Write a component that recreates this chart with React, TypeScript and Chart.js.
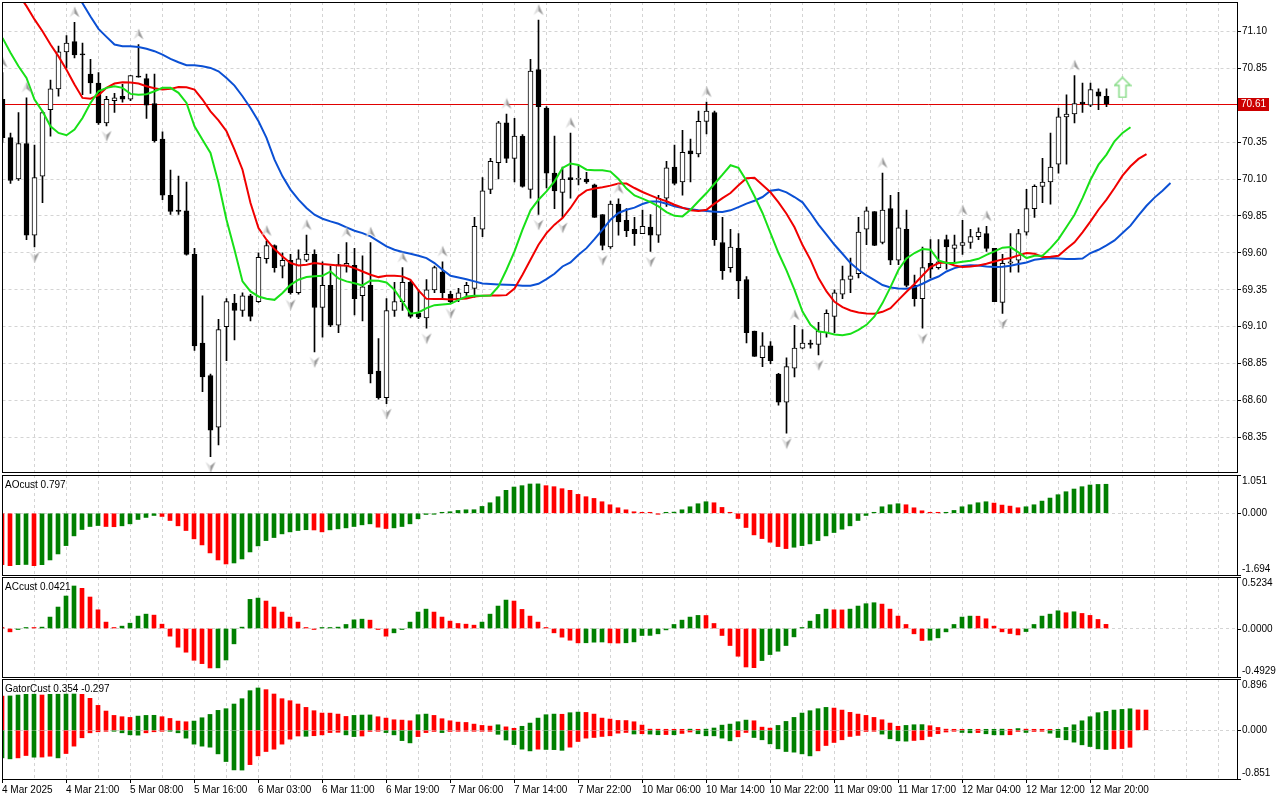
import React, { useEffect, useRef } from "react";
import { Chart, registerables } from "chart.js";

Chart.register(...registerables);

const FONT = "'Liberation Sans', Arial, sans-serif";
const GRID = "#d4d4d4";
const UP = "#008000";
const DOWN = "#ff0000";

Chart.defaults.font.family = FONT;
Chart.defaults.color = "#000";

// ---- H1 price bars, bar 0 = 4 Mar 2025 ----
const opens = [
  70.64, 70.38, 70.10, 70.34, 69.72, 70.12, 70.57, 70.71, 70.96, 71.03,
  70.945, 70.81, 70.75, 70.48, 70.63, 70.66, 70.64, 70.795, 70.78, 70.61,
  70.37, 69.99, 69.89, 69.885, 69.59, 68.99, 68.77, 68.42, 69.10, 69.26,
  69.21, 69.31, 69.27, 69.56, 69.65, 69.51, 69.55, 69.33, 69.55, 69.59,
  69.23, 69.38, 69.11, 69.51, 69.515, 69.31, 69.38, 68.80, 68.62, 69.21,
  69.27, 69.40, 69.19, 69.16, 69.35, 69.47, 69.32, 69.29, 69.33, 69.36,
  69.76, 70.03, 70.21, 70.48, 70.24, 70.39, 70.03, 70.84, 70.58, 70.14,
  70.01, 70.11, 70.098, 70.10, 70.06, 69.86, 69.64, 69.93, 69.82, 69.76,
  69.73, 69.775, 69.72, 69.97, 70.18, 70.08, 70.29, 70.27, 70.49, 70.55,
  69.67, 69.50, 69.63, 69.42, 69.07, 68.89, 68.97, 68.78, 68.59, 68.82,
  68.955, 68.99, 68.98, 69.06, 69.17, 69.32, 69.42, 69.46, 69.76, 69.88,
  69.67, 69.90, 69.55, 69.76, 69.38, 69.29, 69.53, 69.50, 69.69, 69.63,
  69.65, 69.67, 69.71, 69.73, 69.63, 69.265, 69.53, 69.55, 69.74, 69.90,
  70.05, 70.08, 70.20, 70.52, 70.54, 70.62, 70.60, 70.69, 70.66,
];
const highs = [
  70.82, 70.41, 70.55, 70.65, 70.33, 70.56, 70.77, 71.00, 71.07, 71.16,
  71.02, 70.91, 70.82, 70.66, 70.68, 70.74, 70.80, 71.01, 70.81, 70.81,
  70.42, 70.16, 70.12, 70.08, 69.63, 69.31, 68.78, 69.15, 69.29, 69.32,
  69.33, 69.32, 69.60, 69.68, 69.655, 69.60, 69.59, 69.62, 69.72, 69.62,
  69.54, 69.51, 69.59, 69.67, 69.63, 69.58, 69.67, 69.02, 69.29, 69.40,
  69.50, 69.41, 69.35, 69.42, 69.51, 69.54, 69.34, 69.36, 69.40, 69.84,
  70.11, 70.24, 70.49, 70.54, 70.51, 70.40, 70.91, 71.175, 70.59, 70.39,
  70.18, 70.41, 70.19, 70.145, 70.065, 69.86, 69.95, 69.965, 69.90, 69.84,
  69.89, 69.86, 69.99, 70.22, 70.33, 70.43, 70.37, 70.56, 70.62, 70.56,
  69.84, 69.76, 69.73, 69.44, 69.07, 69.06, 69.00, 68.785, 68.89, 69.11,
  69.08, 69.01, 69.13, 69.215, 69.35, 69.51, 69.565, 69.84, 69.91, 69.88,
  70.14, 69.99, 70.01, 69.89, 69.45, 69.64, 69.69, 69.69, 69.72, 69.72,
  69.82, 69.76, 69.77, 69.78, 69.63, 69.59, 69.73, 69.76, 70.03, 70.06,
  70.24, 70.41, 70.58, 70.67, 70.80, 70.75, 70.75, 70.71, 70.71,
];
const lows = [
  70.35, 70.07, 70.09, 69.69, 69.64, 69.94, 70.39, 70.66, 70.85, 70.92,
  70.67, 70.68, 70.47, 70.46, 70.55, 70.62, 70.63, 70.79, 70.51, 70.35,
  69.96, 69.86, 69.86, 69.585, 68.94, 68.66, 68.22, 68.30, 68.87, 69.01,
  69.17, 69.14, 69.265, 69.53, 69.47, 69.43, 69.32, 69.32, 69.54, 68.93,
  69.03, 69.10, 69.06, 69.47, 69.18, 69.14, 68.72, 68.61, 68.58, 69.17,
  69.21, 69.16, 69.155, 69.09, 69.33, 69.29, 69.26, 69.27, 69.30, 69.30,
  69.71, 70.00, 70.10, 70.21, 70.08, 70.045, 69.97, 69.86, 70.04, 69.90,
  69.84, 69.97, 70.06, 70.07, 69.84, 69.62, 69.63, 69.72, 69.71, 69.65,
  69.73, 69.61, 69.67, 69.915, 70.06, 69.99, 70.08, 70.25, 70.405, 69.65,
  69.42, 69.47, 69.29, 68.99, 68.90, 68.83, 68.85, 68.57, 68.38, 68.76,
  68.95, 68.955, 68.91, 69.03, 69.06, 69.29, 69.33, 69.43, 69.655, 69.648,
  69.66, 69.52, 69.52, 69.37, 69.24, 69.09, 69.43, 69.49, 69.49, 69.53,
  69.59, 69.63, 69.69, 69.61, 69.27, 69.19, 69.47, 69.47, 69.72, 69.84,
  69.94, 69.93, 70.14, 70.20, 70.48, 70.55, 70.59, 70.57, 70.59,
];
const closes = [
  70.38, 70.09, 70.34, 69.72, 70.11, 70.55, 70.71, 70.96, 71.02, 70.94,
  70.94, 70.75, 70.48, 70.64, 70.65, 70.64, 70.80, 70.79, 70.60, 70.36,
  69.99, 69.88, 69.88, 69.59, 68.97, 68.76, 68.40, 69.08, 69.27, 69.21,
  69.31, 69.17, 69.57, 69.65, 69.50, 69.55, 69.33, 69.56, 69.59, 69.23,
  69.38, 69.11, 69.52, 69.53, 69.29, 69.37, 68.78, 68.62, 69.21, 69.27,
  69.40, 69.17, 69.165, 69.35, 69.50, 69.33, 69.27, 69.33, 69.38, 69.78,
  70.02, 70.22, 70.48, 70.24, 70.39, 70.05, 70.83, 70.59, 70.14, 70.02,
  70.10, 70.095, 70.10, 70.08, 69.84, 69.65, 69.93, 69.81, 69.75, 69.73,
  69.78, 69.72, 69.97, 70.175, 70.07, 70.28, 70.27, 70.49, 70.56, 69.69,
  69.48, 69.64, 69.41, 69.06, 68.90, 68.97, 68.87, 68.59, 68.83, 68.955,
  68.99, 68.98, 69.07, 69.19, 69.33, 69.42, 69.445, 69.74, 69.885, 69.65,
  69.89, 69.55, 69.77, 69.38, 69.29, 69.50, 69.49, 69.54, 69.64, 69.655,
  69.67, 69.71, 69.74, 69.63, 69.27, 69.53, 69.54, 69.73, 69.90, 70.05,
  70.08, 70.18, 70.52, 70.54, 70.61, 70.61, 70.705, 70.66, 70.61,
];

// ---- Alligator lines (each begins at its own bar index, shifted forward) ----
const jawStart = 8;
const jaw = [
  71.45, 71.37, 71.29, 71.20, 71.116, 71.062, 71.010, 70.999, 70.999, 70.994,
  70.981, 70.965, 70.942, 70.913, 70.890, 70.870, 70.870, 70.863, 70.852, 70.829,
  70.784, 70.732, 70.660, 70.581, 70.491, 70.378, 70.231, 70.118, 70.028, 69.960,
  69.904, 69.858, 69.831, 69.813, 69.797, 69.773, 69.750, 69.734, 69.712, 69.678,
  69.644, 69.621, 69.606, 69.594, 69.581, 69.565, 69.531, 69.486, 69.445, 69.434,
  69.422, 69.407, 69.393, 69.389, 69.386, 69.384, 69.382, 69.377, 69.377, 69.391,
  69.422, 69.459, 69.508, 69.535, 69.587, 69.632, 69.693, 69.757, 69.824, 69.870,
  69.892, 69.906, 69.931, 69.947, 69.947, 69.933, 69.915, 69.904, 69.895, 69.888,
  69.883, 69.879, 69.876, 69.888, 69.910, 69.933, 69.953, 69.978, 70.021, 70.028,
  70.010, 69.978, 69.942, 69.870, 69.791, 69.723, 69.655, 69.594, 69.531, 69.486,
  69.447, 69.416, 69.382, 69.366, 69.359, 69.357, 69.368, 69.391, 69.418, 69.440,
  69.474, 69.497, 69.511, 69.517, 69.515, 69.508, 69.504, 69.506, 69.513, 69.524,
  69.535, 69.553, 69.560, 69.565, 69.562, 69.558, 69.558, 69.562, 69.599, 69.621,
  69.651, 69.684, 69.734, 69.784, 69.854, 69.919, 69.974, 70.021, 70.073,
];
const teethStart = 2;
const teeth = [
  71.35, 71.27, 71.18, 71.10, 71.01, 70.93, 70.84, 70.74, 70.649, 70.644,
  70.667, 70.717, 70.746, 70.755, 70.753, 70.746, 70.728, 70.714, 70.705, 70.710,
  70.723, 70.721, 70.705, 70.638, 70.558, 70.497, 70.423, 70.299, 70.163, 69.937,
  69.768, 69.689, 69.626, 69.576, 69.531, 69.515, 69.520, 69.531, 69.524, 69.520,
  69.515, 69.515, 69.497, 69.474, 69.452, 69.436, 69.445, 69.445, 69.441, 69.418,
  69.346, 69.289, 69.287, 69.287, 69.285, 69.287, 69.291, 69.305, 69.310, 69.312,
  69.312, 69.314, 69.359, 69.452, 69.553, 69.655, 69.734, 69.791, 69.836, 69.904,
  69.983, 70.023, 70.035, 70.044, 70.055, 70.069, 70.069, 70.039, 70.012, 69.989,
  69.967, 69.949, 69.926, 69.906, 69.888, 69.883, 69.892, 69.933, 69.971, 70.005,
  70.057, 70.105, 70.109, 70.059, 70.010, 69.942, 69.865, 69.773, 69.653, 69.553,
  69.429, 69.339, 69.269, 69.233, 69.210, 69.197, 69.190, 69.188, 69.201, 69.226,
  69.282, 69.337, 69.389, 69.447, 69.504, 69.531, 69.535, 69.515, 69.504, 69.508,
  69.515, 69.526, 69.542, 69.556, 69.565, 69.583, 69.599, 69.594, 69.572, 69.574,
  69.580, 69.628, 69.671, 69.739, 69.813, 69.892, 69.960, 70.039, 70.123, 70.186,
  70.236, 70.269,
];
const lipsStart = 0;
const lips = [
  71.055, 70.954, 70.863, 70.784, 70.638, 70.558, 70.457, 70.412, 70.396, 70.434,
  70.513, 70.615, 70.694, 70.717, 70.728, 70.717, 70.676, 70.671, 70.674, 70.694,
  70.717, 70.717, 70.683, 70.615, 70.457, 70.366, 70.276, 70.073, 69.824, 69.621,
  69.407, 69.339, 69.305, 69.289, 69.282, 69.328, 69.384, 69.418, 69.436, 69.441,
  69.445, 69.474, 69.427, 69.407, 69.395, 69.380, 69.413, 69.411, 69.400, 69.350,
  69.271, 69.188, 69.197, 69.226, 69.246, 69.251, 69.255, 69.282, 69.305, 69.310,
  69.310, 69.312, 69.373, 69.486, 69.610, 69.757, 69.888, 69.960, 70.016, 70.084,
  70.175, 70.204, 70.195, 70.163, 70.159, 70.159, 70.150, 70.100, 70.035, 69.989,
  69.967, 69.944, 69.915, 69.876, 69.851, 69.847, 69.892, 69.949, 70.005, 70.068,
  70.129, 70.193, 70.175, 70.089, 69.983, 69.870, 69.734, 69.599, 69.481, 69.350,
  69.203, 69.113, 69.068, 69.061, 69.048, 69.043, 69.052, 69.079, 69.113, 69.170,
  69.260, 69.368, 69.486, 69.562, 69.599, 69.626, 69.621, 69.549, 69.531, 69.531,
  69.540, 69.547, 69.560, 69.587, 69.610, 69.635, 69.639, 69.603, 69.565, 69.580,
  69.580, 69.632, 69.693, 69.775, 69.858, 69.971, 70.095, 70.197, 70.265, 70.355,
  70.412, 70.450,
];

// fractal bars and the buy signal
const fractalUp = [0, 3, 9, 17, 33, 38, 43, 46, 50, 55, 63, 67, 71, 77, 88, 99, 110, 120, 123, 134];
const fractalDown = [4, 13, 26, 36, 39, 48, 53, 56, 67, 70, 75, 81, 98, 102, 115, 125];
const signalBars = [140];
const signalPrices = [70.72];

// ---- oscillators ----
const aoValues = [
  -1.410, -1.438, -1.410, -1.405, -1.438, -1.410, -1.281, -1.116, -0.887, -0.620,
  -0.445, -0.363, -0.336, -0.363, -0.369, -0.344, -0.289, -0.170, -0.114, -0.060,
  -0.087, -0.198, -0.344, -0.473, -0.702, -0.868, -1.088, -1.281, -1.391, -1.364,
  -1.254, -1.061, -0.895, -0.749, -0.666, -0.565, -0.510, -0.473, -0.451, -0.458,
  -0.510, -0.455, -0.427, -0.400, -0.363, -0.317, -0.289, -0.381, -0.418, -0.400,
  -0.363, -0.289, -0.151, -0.032, -0.008, 0.014, 0.042, 0.078, 0.096, 0.098,
  0.188, 0.289, 0.455, 0.630, 0.721, 0.758, 0.804, 0.807, 0.758, 0.730,
  0.675, 0.630, 0.519, 0.455, 0.408, 0.317, 0.234, 0.151, 0.096, 0.042,
  0.023, 0.010, -0.023, 0.014, 0.032, 0.096, 0.179, 0.262, 0.317, 0.289,
  0.161, 0.005, -0.143, -0.390, -0.593, -0.694, -0.794, -0.914, -0.969, -0.932,
  -0.887, -0.840, -0.749, -0.620, -0.528, -0.437, -0.344, -0.198, -0.060, 0.014,
  0.179, 0.234, 0.262, 0.234, 0.151, 0.069, 0.014, 0.005, 0.012, 0.078,
  0.179, 0.234, 0.289, 0.317, 0.280, 0.225, 0.197, 0.152, 0.179, 0.234,
  0.335, 0.418, 0.510, 0.592, 0.666, 0.730, 0.776, 0.792, 0.797,
];
const acValues = [
  0.003, -0.034, -0.005, 0.003, 0.001, 0.014, 0.116, 0.218, 0.330, 0.432,
  0.408, 0.320, 0.190, 0.065, 0.007, 0.024, 0.054, 0.126, 0.146, 0.136,
  0.044, -0.078, -0.190, -0.241, -0.323, -0.357, -0.401, -0.400, -0.320, -0.156,
  0.014, 0.296, 0.309, 0.279, 0.218, 0.167, 0.116, 0.065, 0.003, -0.010,
  0.003, 0.007, 0.014, 0.041, 0.088, 0.095, 0.085, -0.003, -0.078, -0.044,
  -0.003, 0.065, 0.167, 0.197, 0.167, 0.116, 0.075, 0.051, 0.044, 0.034,
  0.065, 0.146, 0.228, 0.289, 0.279, 0.194, 0.126, 0.065, 0.005, -0.044,
  -0.088, -0.119, -0.146, -0.145, -0.139, -0.137, -0.146, -0.148, -0.145, -0.136,
  -0.071, -0.070, -0.054, -0.014, 0.041, 0.085, 0.116, 0.133, 0.132, 0.051,
  -0.071, -0.173, -0.282, -0.391, -0.398, -0.326, -0.265, -0.231, -0.173, -0.085,
  0.007, 0.075, 0.143, 0.197, 0.190, 0.189, 0.197, 0.228, 0.252, 0.262,
  0.248, 0.197, 0.126, 0.041, -0.054, -0.122, -0.119, -0.095, -0.034, 0.041,
  0.116, 0.126, 0.125, 0.099, 0.024, -0.034, -0.051, -0.065, -0.031, 0.041,
  0.126, 0.146, 0.180, 0.160, 0.170, 0.153, 0.133, 0.092, 0.0421,
];
const gatorUpper = [
  0.597, 0.600, 0.616, 0.628, 0.630, 0.616, 0.628, 0.630, 0.632, 0.634,
  0.628, 0.558, 0.435, 0.336, 0.260, 0.237, 0.225, 0.248, 0.260, 0.262,
  0.237, 0.207, 0.161, 0.149, 0.161, 0.219, 0.277, 0.348, 0.377, 0.459,
  0.552, 0.692, 0.739, 0.710, 0.634, 0.552, 0.517, 0.459, 0.400, 0.342,
  0.301, 0.300, 0.283, 0.242, 0.260, 0.266, 0.268, 0.237, 0.213, 0.184,
  0.178, 0.166, 0.272, 0.283, 0.260, 0.202, 0.166, 0.143, 0.137, 0.108,
  0.085, 0.073, 0.096, 0.060, 0.035, 0.070, 0.126, 0.213, 0.272, 0.283,
  0.280, 0.307, 0.318, 0.312, 0.283, 0.213, 0.196, 0.172, 0.170, 0.149,
  0.091, 0.020, 0.019, 0.018, 0.010, 0.009, 0.020, 0.010, 0.020, 0.040,
  0.090, 0.108, 0.149, 0.178, 0.166, 0.055, 0.038, 0.085, 0.155, 0.225,
  0.301, 0.342, 0.377, 0.400, 0.388, 0.353, 0.313, 0.283, 0.260, 0.225,
  0.184, 0.126, 0.070, 0.085, 0.097, 0.099, 0.080, 0.050, 0.020, 0.010,
  0.005, 0.006, 0.005, 0.008, 0.012, 0.020, 0.015, 0.030, 0.020, 0.010,
  0.005, 0.004, 0.010, 0.050, 0.096, 0.166, 0.237, 0.307, 0.330, 0.353,
  0.365, 0.376, 0.356, 0.354,
];
const gatorLower = [
  -0.482, -0.499, -0.482, -0.441, -0.470, -0.468, -0.453, -0.482, -0.406, -0.277,
  -0.131, -0.044, -0.026, -0.003, -0.015, -0.044, -0.079, -0.085, -0.044, -0.026,
  -0.003, -0.009, -0.044, -0.137, -0.242, -0.277, -0.295, -0.412, -0.546, -0.692,
  -0.695, -0.600, -0.447, -0.371, -0.330, -0.242, -0.155, -0.100, -0.105, -0.095,
  -0.080, -0.040, -0.035, -0.080, -0.110, -0.100, -0.020, -0.015, -0.040, -0.080,
  -0.180, -0.220, -0.110, -0.040, -0.020, -0.040, -0.020, -0.015, -0.010, -0.005,
  -0.003, -0.002, -0.070, -0.170, -0.250, -0.330, -0.360, -0.330, -0.335, -0.338,
  -0.350, -0.295, -0.196, -0.137, -0.126, -0.108, -0.096, -0.050, -0.038, -0.065,
  -0.060, -0.067, -0.078, -0.075, -0.078, -0.055, -0.030, -0.061, -0.096, -0.097,
  -0.137, -0.184, -0.114, -0.038, -0.126, -0.166, -0.237, -0.324, -0.371, -0.382,
  -0.412, -0.447, -0.359, -0.266, -0.213, -0.166, -0.108, -0.090, -0.020, -0.015,
  -0.067, -0.149, -0.184, -0.190, -0.178, -0.166, -0.108, -0.060, -0.030, -0.010,
  -0.038, -0.044, -0.040, -0.061, -0.079, -0.080, -0.078, -0.020, -0.038, -0.020,
  -0.005, -0.050, -0.126, -0.166, -0.207, -0.254, -0.284, -0.324, -0.336, -0.324,
  -0.320, -0.297,
];

// ---- axes ----
const priceTicks = [71.10, 70.85, 70.35, 70.10, 69.85, 69.60, 69.35, 69.10, 68.85, 68.60, 68.35];
const aoRange = [-1.694, 1.051];
const acRange = [-0.4929, 0.5234];
const gatorRange = [-0.851, 0.896];
const timeLabelBars = [0, 8, 16, 24, 32, 40, 48, 56, 64, 72, 80, 88, 96, 104, 112, 120, 128, 136];
const timeLabels = [
  "4 Mar 2025", "4 Mar 21:00", "5 Mar 08:00", "5 Mar 16:00", "6 Mar 03:00", "6 Mar 11:00",
  "6 Mar 19:00", "7 Mar 06:00", "7 Mar 14:00", "7 Mar 22:00", "10 Mar 06:00", "10 Mar 14:00",
  "10 Mar 22:00", "11 Mar 09:00", "11 Mar 17:00", "12 Mar 04:00", "12 Mar 12:00", "12 Mar 20:00",
];
const gridBars = Array.from({ length: 39 }, (_, i) => i * 4);

const series = (vals: number[], start: number) => vals.map((v, i) => ({ x: start + i, y: v }));

const histColors = (vals: number[], firstUp: boolean, byMagnitude = false) =>
  vals.map((v, i) => {
    if (i === 0) return firstUp ? UP : DOWN;
    const a = byMagnitude ? Math.abs(v) : v;
    const b = byMagnitude ? Math.abs(vals[i - 1]) : vals[i - 1];
    return a > b ? UP : DOWN;
  });

const framePlugin = {
  id: "frame",
  afterDraw(chart: any) {
    const { ctx, chartArea: a } = chart;
    const l = Math.floor(a.left) + 0.5;
    const t = Math.floor(a.top) + 0.5;
    const r = Math.floor(a.right) + 0.5;
    const b = Math.floor(a.bottom) + 0.5;
    ctx.save();
    ctx.strokeStyle = "#000";
    ctx.lineWidth = 1;
    ctx.strokeRect(l, t, r - l, b - t);
    ctx.restore();
  },
};

const edgeLabels = (digits: number) => ({
  id: "edgeLabels",
  afterDraw(chart: any) {
    const { ctx, chartArea: a } = chart;
    const ys = chart.scales.y;
    ctx.save();
    ctx.font = `10px ${FONT}`;
    ctx.fillStyle = "#000";
    ctx.strokeStyle = "#000";
    ctx.lineWidth = 1;
    ctx.textAlign = "left";
    [ys.max, 0, ys.min].forEach((v: number, i: number) => {
      const py = Math.round(ys.getPixelForValue(v)) + 0.5;
      ctx.beginPath();
      ctx.moveTo(a.right, py);
      ctx.lineTo(a.right + 4, py);
      ctx.stroke();
      ctx.textBaseline = i === 0 ? "top" : i === 2 ? "bottom" : "middle";
      ctx.fillText(v.toFixed(digits), a.right + 5, i === 0 ? py + 1 : i === 2 ? py - 1 : py);
    });
    ctx.restore();
  },
});

const lastPricePlugin = {
  id: "lastPrice",
  beforeDatasetsDraw(chart: any) {
    const { ctx, chartArea: a } = chart;
    const py = Math.round(chart.scales.y.getPixelForValue(closes[closes.length - 1])) + 0.5;
    ctx.save();
    ctx.strokeStyle = "#e00000";
    ctx.lineWidth = 1;
    ctx.beginPath();
    ctx.moveTo(a.left, py);
    ctx.lineTo(a.right, py);
    ctx.stroke();
    ctx.restore();
  },
  afterDraw(chart: any) {
    const { ctx, chartArea: a } = chart;
    const last = closes[closes.length - 1];
    const py = Math.round(chart.scales.y.getPixelForValue(last));
    ctx.save();
    ctx.fillStyle = "#cc0000";
    ctx.fillRect(a.right + 1, py - 6, 31, 13);
    ctx.fillStyle = "#fff";
    ctx.font = `10px ${FONT}`;
    ctx.textAlign = "left";
    ctx.textBaseline = "middle";
    ctx.fillText(last.toFixed(2), a.right + 4, py + 0.5);
    ctx.restore();
  },
};

function makeFractal(up: boolean) {
  const c = document.createElement("canvas");
  c.width = 12;
  c.height = 33;
  const g = c.getContext("2d")!;
  const cx = 6;
  const cy = up ? 6 : 27;
  const s = up ? 1 : -1;
  const tip = [cx, cy - 5.5 * s];
  const left = [cx - 5, cy + 5.5 * s];
  const notch = [cx, cy + 1.5 * s];
  const right = [cx + 5, cy + 5.5 * s];
  const tri = (p: number[][], color: string) => {
    g.beginPath();
    g.moveTo(p[0][0], p[0][1]);
    g.lineTo(p[1][0], p[1][1]);
    g.lineTo(p[2][0], p[2][1]);
    g.closePath();
    g.fillStyle = color;
    g.fill();
  };
  tri([tip, left, notch], "#dcdcdc");
  tri([tip, notch, right], "#9a9a9a");
  return c;
}

function makeBuyArrow() {
  const c = document.createElement("canvas");
  c.width = 18;
  c.height = 22;
  const g = c.getContext("2d")!;
  g.beginPath();
  g.moveTo(9, 1);
  g.lineTo(17, 9);
  g.lineTo(12.5, 9);
  g.lineTo(12.5, 21);
  g.lineTo(5.5, 21);
  g.lineTo(5.5, 9);
  g.lineTo(1, 9);
  g.closePath();
  g.fillStyle = "#ffffff";
  g.fill();
  g.lineWidth = 1.5;
  g.strokeStyle = "#86dc86";
  g.stroke();
  return c;
}

const xScale = (max: number, withTime: boolean) => ({
  type: "linear",
  min: 0,
  max,
  offset: false,
  grid: {
    offset: false,
    color: GRID,
    drawTicks: withTime,
    tickLength: 4,
    tickBorderDash: [],
    tickColor: (c: any) =>
      c.tick && timeLabelBars.includes(c.tick.value) ? "#000" : "rgba(0,0,0,0)",
  },
  border: { display: false, dash: [3, 3] },
  ticks: {
    display: withTime,
    autoSkip: false,
    maxRotation: 0,
    minRotation: 0,
    align: "start",
    padding: 1,
    color: "#000",
    font: { family: FONT, size: 10 },
    callback: (v: any) => {
      const i = timeLabelBars.indexOf(Number(v));
      return i >= 0 ? timeLabels[i] : "";
    },
  },
  afterBuildTicks: (s: any) => {
    s.ticks = gridBars.map((v) => ({ value: v }));
  },
  afterFit: (s: any) => {
    s.height = withTime ? 21 : 0;
    s.paddingLeft = 0;
    s.paddingRight = 0;
  },
});

function subChart(canvas: HTMLCanvasElement, datasets: any[], range: number[], digits: number, withTime: boolean) {
  return new Chart(canvas, {
    type: "bar",
    data: { datasets },
    options: {
      responsive: false,
      animation: false,
      events: [],
      layout: { autoPadding: false, padding: { left: 2, top: 1, right: 0, bottom: withTime ? 0 : 1 } },
      plugins: { legend: { display: false }, tooltip: { enabled: false } },
      scales: {
        x: xScale(1235 / 8, withTime),
        y: {
          position: "right",
          min: range[0],
          max: range[1],
          grid: { color: GRID, drawTicks: false },
          border: { display: false, dash: [3, 3] },
          ticks: { display: false },
          afterBuildTicks: (s: any) => {
            s.ticks = [range[0], 0, range[1]].map((v) => ({ value: v }));
          },
          afterFit: (s: any) => {
            s.width = 43;
            s.paddingTop = 0;
            s.paddingBottom = 0;
          },
        },
      },
    } as any,
    plugins: [framePlugin, edgeLabels(digits)],
  });
}

const histogram = (vals: number[], colors: string[]) => ({
  type: "bar",
  data: series(vals, 0),
  backgroundColor: colors,
  barThickness: 4,
  grouped: false,
  minBarLength: 1,
});

const lineSet = (vals: number[], start: number, color: string, order: number) => ({
  type: "line",
  data: series(vals, start),
  borderColor: color,
  borderWidth: 2,
  pointRadius: 0,
  tension: 0,
  fill: false,
  order,
});

const App: React.FC = () => {
  const mainRef = useRef<HTMLCanvasElement | null>(null);
  const aoRef = useRef<HTMLCanvasElement | null>(null);
  const acRef = useRef<HTMLCanvasElement | null>(null);
  const gatorRef = useRef<HTMLCanvasElement | null>(null);

  useEffect(() => {
    const charts: Chart[] = [];
    const bars = closes.map((_, k) => k);

    if (mainRef.current) {
      charts.push(
        new Chart(mainRef.current, {
          type: "bar",
          data: {
            datasets: [
              {
                type: "bar",
                data: bars.map((k) => ({ x: k, y: [lows[k], highs[k]] })),
                backgroundColor: "#000",
                barThickness: 1,
                grouped: false,
                order: 5,
              },
              {
                type: "bar",
                data: bars.map((k) => ({ x: k, y: [opens[k], closes[k]] })),
                backgroundColor: bars.map((k) => (closes[k] > opens[k] ? "#fff" : "#000")),
                borderColor: "#000",
                borderWidth: 1,
                borderSkipped: false,
                barThickness: 5,
                grouped: false,
                minBarLength: 1,
                order: 4,
              },
              lineSet(jaw, jawStart, "#0b50d4", 3),
              lineSet(teeth, teethStart, "#f00000", 2),
              lineSet(lips, lipsStart, "#18e018", 1),
              {
                type: "scatter",
                data: fractalUp.map((k) => ({ x: k, y: highs[k] })),
                pointStyle: makeFractal(true),
                pointRadius: 5,
                order: 0,
              },
              {
                type: "scatter",
                data: fractalDown.map((k) => ({ x: k, y: lows[k] })),
                pointStyle: makeFractal(false),
                pointRadius: 5,
                order: 0,
              },
              {
                type: "scatter",
                data: signalBars.map((k, i) => ({ x: k, y: signalPrices[i] })),
                pointStyle: makeBuyArrow(),
                pointRadius: 8,
                order: 0,
              },
            ] as any,
          },
          options: {
            responsive: false,
            animation: false,
            events: [],
            layout: { autoPadding: false, padding: { left: 2.5, top: 2, right: 0, bottom: 1.5 } },
            plugins: { legend: { display: false }, tooltip: { enabled: false } },
            scales: {
              x: xScale(1234.5 / 8, false),
              y: {
                position: "right",
                min: 68.1135,
                max: 71.298,
                grid: { color: GRID, drawTicks: true, tickLength: 4, tickColor: "#000", tickBorderDash: [] },
                border: { display: false, dash: [3, 3] },
                ticks: {
                  autoSkip: false,
                  color: "#000",
                  padding: 1,
                  font: { family: FONT, size: 10 },
                  callback: (v: any) => Number(v).toFixed(2),
                },
                afterBuildTicks: (s: any) => {
                  s.ticks = priceTicks.map((v) => ({ value: v }));
                },
                afterFit: (s: any) => {
                  s.width = 43;
                  s.paddingTop = 0;
                  s.paddingBottom = 0;
                },
              },
            },
          } as any,
          plugins: [lastPricePlugin, framePlugin],
        })
      );
    }

    if (aoRef.current) {
      charts.push(subChart(aoRef.current, [histogram(aoValues, histColors(aoValues, false))], aoRange, 3, false));
    }
    if (acRef.current) {
      charts.push(subChart(acRef.current, [histogram(acValues, histColors(acValues, false))], acRange, 4, false));
    }
    if (gatorRef.current) {
      charts.push(
        subChart(
          gatorRef.current,
          [
            histogram(gatorUpper, histColors(gatorUpper, false)),
            histogram(gatorLower, histColors(gatorLower, true, true)),
          ],
          gatorRange,
          3,
          true
        )
      );
    }

    return () => {
      charts.forEach((c) => c.destroy());
    };
  }, []);

  const title = (top: number): React.CSSProperties => ({
    position: "absolute",
    left: 5,
    top,
    fontFamily: FONT,
    fontSize: 10,
    lineHeight: "12px",
    color: "#000",
    whiteSpace: "nowrap",
  });

  return (
    <div
      style={{
        position: "fixed",
        left: 0,
        top: 0,
        width: 1280,
        height: 800,
        background: "#fff",
        overflow: "hidden",
      }}
    >
      <canvas ref={mainRef} width={1280} height={474} style={{ position: "absolute", left: 0, top: 0 }} />
      <canvas ref={aoRef} width={1280} height={102} style={{ position: "absolute", left: 0, top: 474 }} />
      <canvas ref={acRef} width={1280} height={102} style={{ position: "absolute", left: 0, top: 576 }} />
      <canvas ref={gatorRef} width={1280} height={122} style={{ position: "absolute", left: 0, top: 678 }} />
      <div style={title(479)}>AOcust {aoValues[aoValues.length - 1].toFixed(3)}</div>
      <div style={title(581)}>ACcust {acValues[acValues.length - 1].toFixed(4)}</div>
      <div style={title(683)}>
        GatorCust {gatorUpper[gatorUpper.length - 1].toFixed(3)} {gatorLower[gatorLower.length - 1].toFixed(3)}
      </div>
    </div>
  );
};

export default App;
